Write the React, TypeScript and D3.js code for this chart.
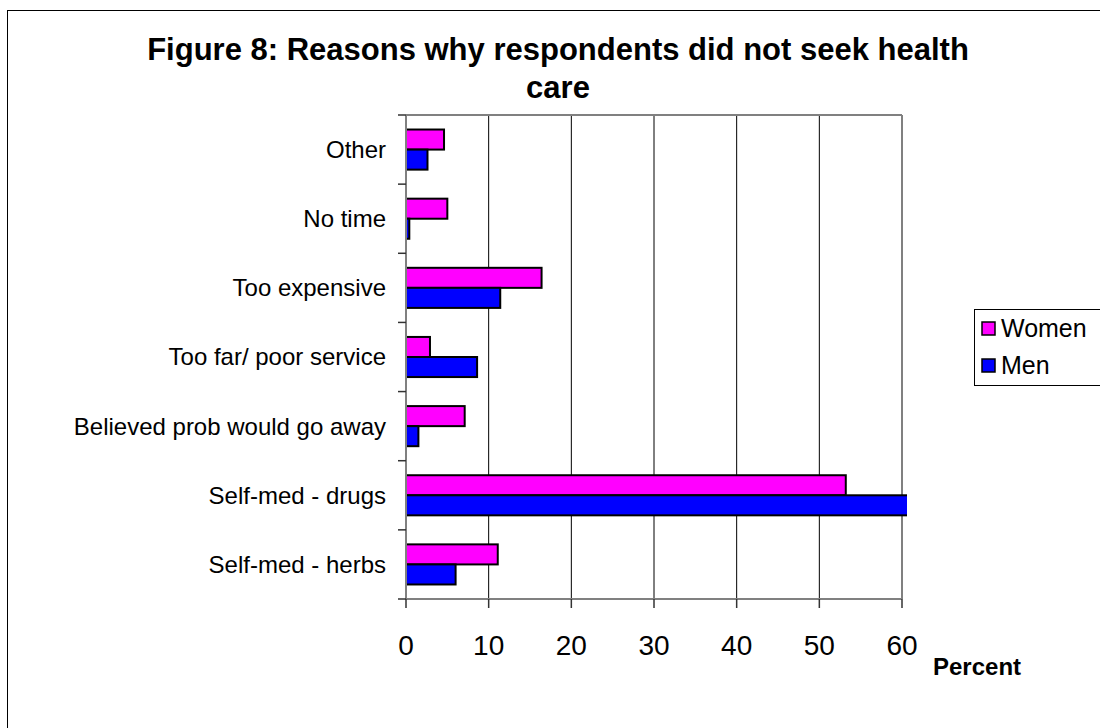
import React from "react";
import * as d3 from "d3";

const categories = [
  "Other",
  "No time",
  "Too expensive",
  "Too far/ poor service",
  "Believed prob would go away",
  "Self-med - drugs",
  "Self-med - herbs",
];
const women = [4.6, 5.0, 16.4, 2.9, 7.1, 53.2, 11.1];
const men = [2.6, 0.4, 11.4, 8.6, 1.5, 61.5, 6.0];
const seriesNames = ["Women", "Men"];
const seriesColors = ["#ff00ff", "#0000ff"];
const xTicks = [0, 10, 20, 30, 40, 50, 60];
const titleLines = ["Figure 8: Reasons why respondents did not seek health", "care"];
const axisTitle = "Percent";

const FONT = "'Liberation Sans', Arial, sans-serif";

export default function App() {
  const W = 1100;
  const H = 728;
  const left = 406;
  const right = 902;
  const top = 115;
  const bottom = 599;

  const x = d3.scaleLinear().domain([0, 60]).range([left, right]);
  const y = d3
    .scaleBand<string>()
    .domain(categories)
    .range([top, bottom])
    .paddingInner(0.42)
    .paddingOuter(0.21);
  const inner = d3
    .scaleBand<string>()
    .domain(seriesNames)
    .range([0, y.bandwidth()]);

  const step = y.step();
  const tickYs = d3.range(categories.length + 1).map((i) => top + i * step);

  const series = [women, men];

  return (
    <div style={{ position: "absolute", left: 0, top: 0 }}>
      <svg width={W} height={H} style={{ display: "block" }}>
        <rect x={0} y={0} width={W} height={H} fill="#fff" />
        <rect x={7.5} y={10.5} width={1200} height={800} fill="none" stroke="#000" strokeWidth={1} />
        <defs>
          <clipPath id="plotclip">
            <rect x={left - 3} y={top} width={right - left + 8} height={bottom - top} />
          </clipPath>
        </defs>
        {/* title */}
        {titleLines.map((t, i) => (
          <text
            key={i}
            x={558}
            y={60 + i * 38}
            textAnchor="middle"
            fontFamily={FONT}
            fontWeight="bold"
            fontSize={31}
            fill="#000"
          >
            {t}
          </text>
        ))}
        {/* gridlines */}
        {xTicks
          .filter((t) => t > 0 && t < 60)
          .map((t) => (
            <line key={t} x1={x(t)} x2={x(t)} y1={top} y2={bottom} stroke="#000" strokeWidth={1} />
          ))}
        {/* plot border top/right */}
        <line x1={left} x2={right} y1={top} y2={top} stroke="#808080" strokeWidth={2} />
        <line x1={right} x2={right} y1={top} y2={bottom} stroke="#808080" strokeWidth={2} />
        {/* bars */}
        <g clipPath="url(#plotclip)">
          {categories.map((c, ci) =>
            series.map((s, si) => (
              <rect
                key={c + si}
                x={x(0)}
                y={(y(c) as number) + (inner(seriesNames[si]) as number)}
                width={x(s[ci]) - x(0)}
                height={inner.bandwidth()}
                fill={seriesColors[si]}
                stroke="#000"
                strokeWidth={2}
              />
            ))
          )}
        </g>
        {/* axes */}
        <line x1={left} x2={left} y1={top} y2={bottom + 1} stroke="#808080" strokeWidth={2} />
        <line x1={left} x2={right} y1={bottom} y2={bottom} stroke="#808080" strokeWidth={2} />
        {tickYs.map((ty, i) => (
          <line key={i} x1={left - 8} x2={left} y1={ty} y2={ty} stroke="#333" strokeWidth={1.5} />
        ))}
        {xTicks.map((t) => (
          <line key={t} x1={x(t)} x2={x(t)} y1={bottom} y2={bottom + 9} stroke="#333" strokeWidth={1.5} />
        ))}
        {/* category labels */}
        {categories.map((c) => (
          <text
            key={c}
            x={386}
            y={(y(c) as number) + y.bandwidth() / 2}
            dy="0.35em"
            textAnchor="end"
            fontFamily={FONT}
            fontSize={24}
            fill="#000"
          >
            {c}
          </text>
        ))}
        {/* x tick labels */}
        {xTicks.map((t) => (
          <text
            key={t}
            x={x(t)}
            y={655}
            textAnchor="middle"
            fontFamily={FONT}
            fontSize={28}
            fill="#000"
          >
            {t}
          </text>
        ))}
        <text x={933} y={675} fontFamily={FONT} fontWeight="bold" fontSize={24} fill="#000">
          {axisTitle}
        </text>
        {/* legend */}
        <rect x={974.5} y={309.5} width={200} height={76} fill="#fff" stroke="#000" strokeWidth={1} />
        {seriesNames.map((n, i) => (
          <g key={n}>
            <rect
              x={982}
              y={322 + i * 37}
              width={13}
              height={13}
              fill={seriesColors[i]}
              stroke="#000"
              strokeWidth={1.5}
            />
            <text x={1001} y={337 + i * 37} fontFamily={FONT} fontSize={25} fill="#000">
              {n}
            </text>
          </g>
        ))}
      </svg>
    </div>
  );
}
